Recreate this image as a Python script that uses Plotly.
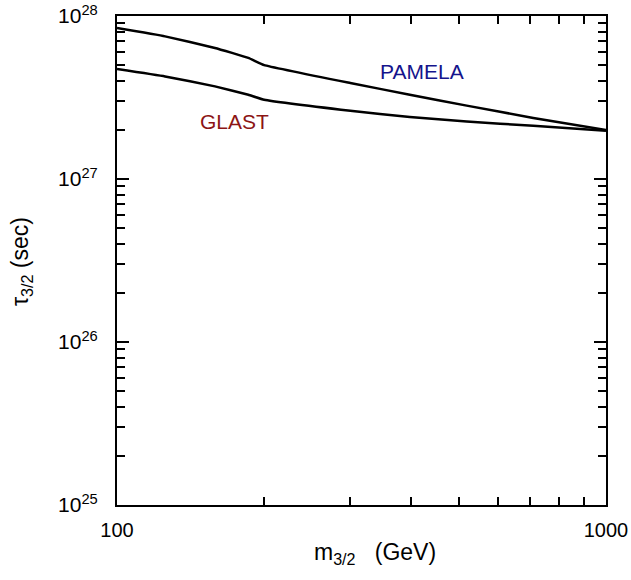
import plotly.graph_objects as go

# Data
pamela_m = [100, 125.4, 158.6, 185.6, 200, 300, 397, 519, 710, 1000]
pamela_tau = [8.43e27, 7.50e27, 6.37e27, 5.53e27, 5.0e27, 3.88e27, 3.29e27, 2.82e27, 2.37e27, 2.0e27]
glast_m = [100, 125.4, 158.6, 185.6, 200, 300, 397, 519, 710, 1000]
glast_tau = [4.73e27, 4.26e27, 3.70e27, 3.29e27, 3.06e27, 2.62e27, 2.4e27, 2.25e27, 2.12e27, 1.98e27]

x_major = [100, 1000]
x_major_text = ["100", "1000"]
x_minor = [200, 300, 400, 500, 600, 700, 800, 900]
y_major = [1e25, 1e26, 1e27, 1e28]
y_exponents = ["25", "26", "27", "28"]
y_major_text = ["10<sup>%s</sup>" % e for e in y_exponents]
y_minor = [float(m) * 10.0 ** e for e in (25, 26, 27) for m in range(2, 10)]

font = "Liberation Sans, Arial, sans-serif"

W, H = 631, 580
L, R, T, B = 117, 25, 16, 75
pw, ph = W - L - R, H - T - B

fig = go.Figure()
fig.add_trace(go.Scatter(x=pamela_m, y=pamela_tau, mode="lines",
                         line=dict(color="black", width=2.5, shape="spline", smoothing=0.3),
                         showlegend=False, hoverinfo="skip"))
fig.add_trace(go.Scatter(x=glast_m, y=glast_tau, mode="lines",
                         line=dict(color="black", width=2.5, shape="spline", smoothing=0.3),
                         showlegend=False, hoverinfo="skip"))

fig.add_annotation(x=2.624, y=27.658, xref="x", yref="y", text="PAMELA", showarrow=False,
                   font=dict(family=font, size=21, color="#14148c"))
fig.add_annotation(x=2.2403, y=27.3515, xref="x", yref="y", text="GLAST", showarrow=False,
                   font=dict(family=font, size=21, color="#8c1414"))

# axis titles (positioned in paper coordinates)
fig.add_annotation(xref="paper", yref="paper", x=(375 - L) / pw, y=(H - B - 553) / ph,
                   xanchor="center", yanchor="middle", text="m<sub>3/2</sub>   (GeV)",
                   showarrow=False, font=dict(family=font, size=23, color="black"))
fig.add_annotation(xref="paper", yref="paper", x=(21 - L) / pw, y=(H - B - 262) / ph,
                   xanchor="center", yanchor="middle", text="τ<sub>3/2</sub> (sec)", textangle=-90,
                   showarrow=False, font=dict(family=font, size=23, color="black"))

axis_common = dict(showline=True, linecolor="black", linewidth=2, mirror="allticks",
                   ticks="inside", tickcolor="black", tickwidth=1.5, ticklen=12,
                   showgrid=False, zeroline=False, automargin=False)

fig.update_xaxes(type="log", range=[2, 3], tickmode="array", tickvals=x_major,
                 ticktext=x_major_text,
                 tickfont=dict(family=font, size=20, color="black"),
                 minor=dict(tickmode="array", tickvals=x_minor, ticks="inside", ticklen=8,
                            tickcolor="black", tickwidth=1.5, showgrid=False),
                 ticklabelstandoff=6,
                 **axis_common)
fig.update_yaxes(type="log", range=[25, 28], tickmode="array", tickvals=y_major,
                 ticktext=y_major_text,
                 tickfont=dict(family=font, size=21, color="black"),
                 minor=dict(tickmode="array", tickvals=y_minor, ticks="inside", ticklen=8,
                            tickcolor="black", tickwidth=1.5, showgrid=False),
                 ticklabelstandoff=13,
                 **axis_common)

fig.update_layout(width=W, height=H, margin=dict(l=L, r=R, t=T, b=B),
                  plot_bgcolor="white", paper_bgcolor="white",
                  font=dict(family=font, color="black"))

fig.write_html("out.html")
